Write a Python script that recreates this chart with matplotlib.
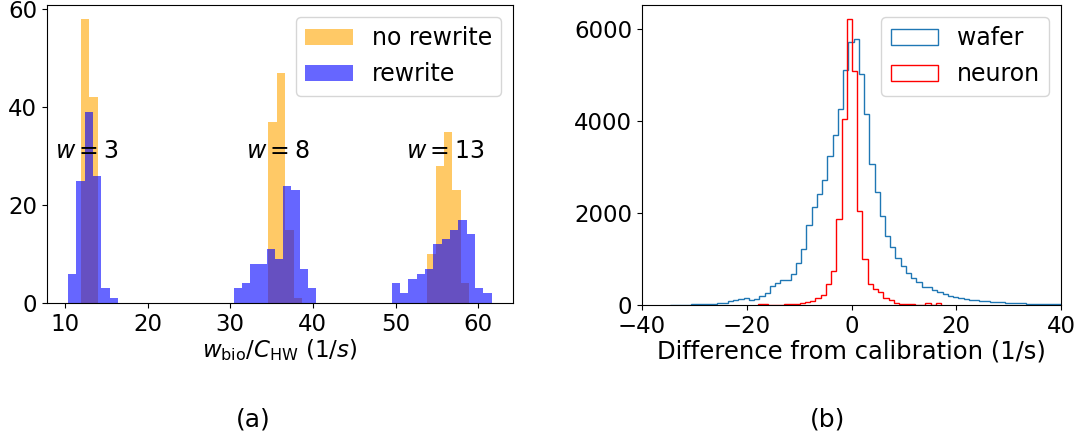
import numpy as np
import matplotlib
matplotlib.use("Agg")
import matplotlib.pyplot as plt

# ---------------- Panel (a) data ----------------
orange_edges = [
    [11.93, 12.94, 13.95],
    [34.63, 35.64, 36.65, 37.66, 38.67],
    [53.86, 54.86, 55.87, 56.88, 57.88, 58.89],
]
orange_counts = [
    [58, 42],
    [37, 47, 15, 1],
    [10, 28, 35, 23, 4],
]
blue_edges = [
    [10.4, 11.4, 12.4, 13.4, 14.4, 15.4, 16.4],
    [30.4, 31.4, 32.4, 33.4, 34.4, 35.4, 36.4, 37.4, 38.4, 39.4, 40.4],
    [49.55, 50.56, 51.57, 52.57, 53.58, 54.59, 55.6, 56.6, 57.61, 58.62, 59.63, 60.64, 61.65],
]
blue_counts = [
    [6, 25, 39, 26, 3, 1],
    [3, 4, 8, 8, 11, 9, 24, 23, 7, 3],
    [4, 2, 5, 6, 7, 12, 13, 15, 17, 14, 3, 2],
]
w_labels = [r"$w = 3$", r"$w = 8$", r"$w = 13$"]
w_label_x = [12.7, 35.8, 56.0]
w_label_y = 31

# ---------------- Panel (b) data ----------------
wafer_first_edge = -34.6
wafer_counts = [
    5, 6, 8, 10, 12, 15, 18, 20, 30, 35, 50, 80, 118, 140, 143, 115, 132, 190,
    265, 416, 473, 535, 555, 680, 911, 1220, 1744, 2131, 2426, 2727, 3244, 3710,
    4270, 5118, 5720, 5790, 5038, 4155, 3072, 2454, 1931, 1500, 1255, 1025, 858,
    705, 592, 502, 392, 390, 337, 287, 235, 201, 165, 144, 130, 115, 100, 88, 80,
    70, 62, 55, 50, 45, 40, 36, 32, 28, 25, 22, 20, 18, 16,
]
neuron_first_edge = -17.9
neuron_counts = [
    12, 12, 4, 3, 10, 12, 14, 20, 36, 68, 93, 160, 212, 467, 740, 1866, 4041,
    6222, 5096, 2055, 1000, 460, 345, 280, 144, 100, 36, 18, 15, 12, 10, 8, 36, 6, 36,
]
bin_width = 1.0

FS_TICK = 16.5
FS_LEG = 17
FS_LAB = 17.5
FS_W = 17
FS_PANEL = 18
plt.rcParams['font.family'] = ['DejaVu Sans']
plt.rcParams['xtick.labelsize'] = FS_TICK
plt.rcParams['ytick.labelsize'] = FS_TICK

fig = plt.figure(figsize=(10.87, 4.42), dpi=100)
W, H = 1087, 442
ax1 = fig.add_axes([47 / W, 1 - 303 / H, (513 - 47) / W, (303 - 5) / H])
ax2 = fig.add_axes([642 / W, 1 - 305 / H, (1061 - 642) / W, (305 - 5) / H])

# Panel (a)
for i, (e, c) in enumerate(zip(orange_edges, orange_counts)):
    e = np.array(e)
    ax1.hist(e[:-1], bins=e, weights=c, color='orange', alpha=0.6,
             label='no rewrite' if i == 0 else None)
for i, (e, c) in enumerate(zip(blue_edges, blue_counts)):
    e = np.array(e)
    ax1.hist(e[:-1], bins=e, weights=c, color='blue', alpha=0.6,
             label='rewrite' if i == 0 else None)
for t, x in zip(w_labels, w_label_x):
    ax1.text(x, w_label_y, t, ha='center', va='center', fontsize=FS_W)
ax1.set_xticks([10, 20, 30, 40, 50, 60])
ax1.set_yticks([0, 20, 40, 60])
ax1.set_xlabel(r"$w_\mathrm{bio}/C_\mathrm{HW}$ (1/$s$)", fontsize=FS_TICK, labelpad=1)
ax1.legend(loc='upper right', fontsize=FS_LEG)

# Panel (b)
we = wafer_first_edge + bin_width * np.arange(len(wafer_counts) + 1)
ne = neuron_first_edge + bin_width * np.arange(len(neuron_counts) + 1)
ax2.hist(we[:-1], bins=we, weights=wafer_counts, histtype='step',
         color='#1f77b4', label='wafer')
ax2.hist(ne[:-1], bins=ne, weights=neuron_counts, histtype='step',
         color='red', label='neuron')
ax2.set_xlim(-40, 40)
ax2.set_xticks([-40, -20, 0, 20, 40])
ax2.set_yticks([0, 2000, 4000, 6000])
ax2.set_xlabel("Difference from calibration (1/s)", fontsize=FS_LAB, labelpad=1)
ax2.legend(loc='upper right', fontsize=FS_LEG)

fig.text(253 / W, 1 - 419 / H, "(a)", ha='center', va='center', fontsize=FS_PANEL)
fig.text(828 / W, 1 - 419 / H, "(b)", ha='center', va='center', fontsize=FS_PANEL)

fig.savefig("out.png", dpi=100)
